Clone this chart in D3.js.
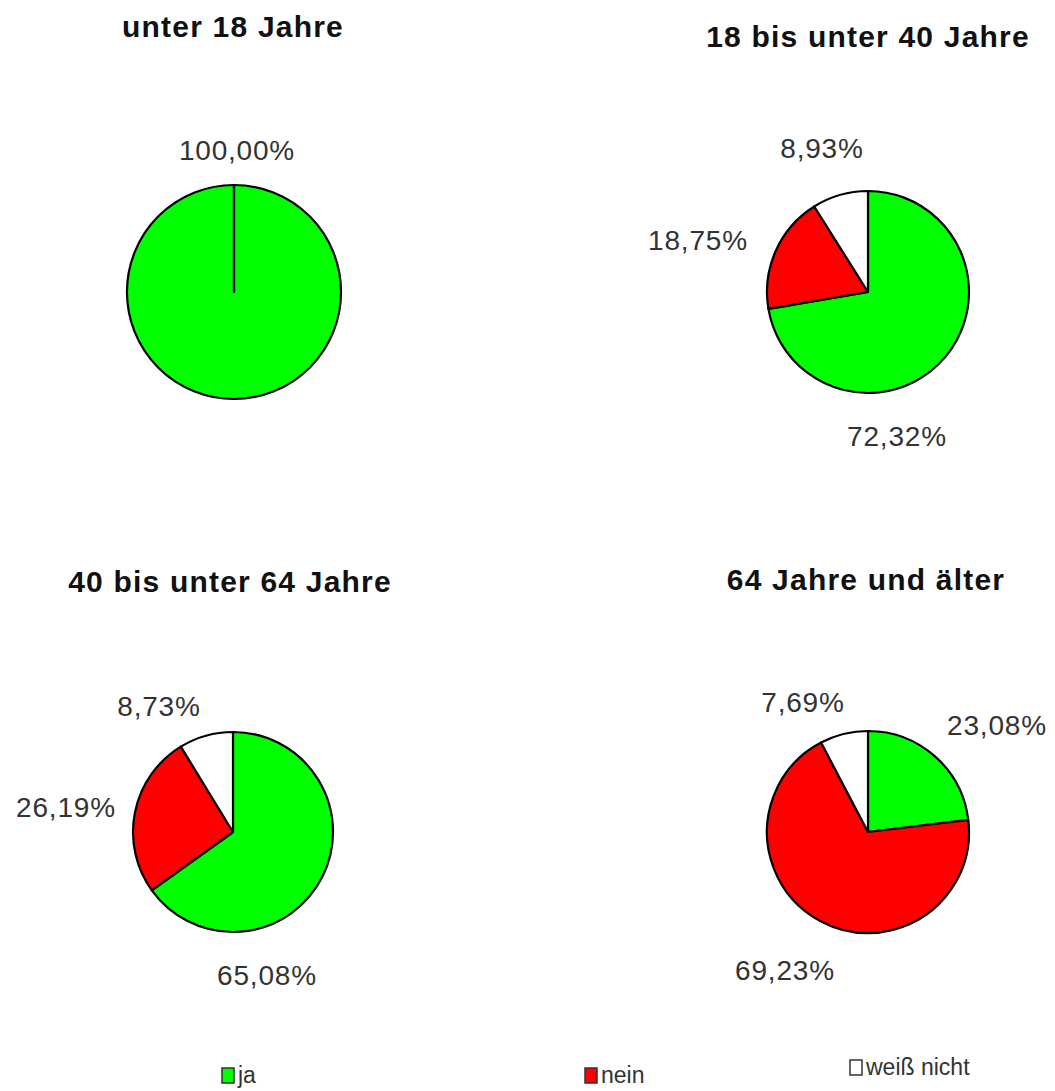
<!DOCTYPE html>
<html>
<head>
<meta charset="utf-8">
<script src="https://cdn.jsdelivr.net/npm/d3@7"></script>
<style>
  html, body { margin: 0; padding: 0; background: #fff; }
  svg { display: block; }
</style>
</head>
<body>
<svg id="chart" width="1055" height="1091"></svg>
<script>
// Age groups and answer shares (percent)
const ageGroups = ["unter 18 Jahre", "18 bis unter 40 Jahre", "40 bis unter 64 Jahre", "64 Jahre und älter"];
const answers = ["ja", "nein", "weiß nicht"];
const ja = [100.00, 72.32, 65.08, 23.08];
const nein = [0, 18.75, 26.19, 69.23];
const weissNicht = [0, 8.93, 8.73, 7.69];

const colors = ["#00ff00", "#ff0000", "#ffffff"];

// Panel layout: pie centre, radius, title anchor and label anchors (ja, nein, weiß nicht)
const panels = [
  { cx: 234, cy: 292, r: 107, title: [233, 37],  labels: [[237, 160], null, null] },
  { cx: 868, cy: 292, r: 101, title: [868, 47],  labels: [[897, 446], [698, 250], [822, 158]] },
  { cx: 233, cy: 832, r: 100, title: [230, 592], labels: [[267, 985], [66, 817], [159, 716]] },
  { cx: 868, cy: 832, r: 101, title: [866, 590], labels: [[997, 735], [785, 980], [803, 712]] }
];

const svg = d3.select("#chart");
const fmt = v => v.toFixed(2).replace(".", ",") + "%";

const pie = d3.pie().sort(null).value(d => d.value);

ageGroups.forEach((name, i) => {
  const p = panels[i];
  const slices = answers.map((a, k) => ({
    answer: a,
    value: [ja, nein, weissNicht][k][i],
    color: colors[k]
  }));
  const arc = d3.arc().innerRadius(0).outerRadius(p.r);

  const g = svg.append("g").attr("transform", `translate(${p.cx},${p.cy})`);
  g.selectAll("path")
    .data(pie(slices))
    .join("path")
    .attr("d", arc)
    .attr("fill", d => d.data.color)
    .attr("stroke", "#000")
    .attr("stroke-width", 2.2)
    .attr("stroke-linejoin", "round");

  svg.append("text")
    .attr("x", p.title[0])
    .attr("y", p.title[1])
    .attr("text-anchor", "middle")
    .attr("font-family", "Liberation Sans, Arial, sans-serif")
    .attr("font-weight", "bold")
    .attr("font-size", 30)
    .attr("letter-spacing", 1.2)
    .attr("fill", "#111")
    .text(name);

  slices.forEach((s, k) => {
    if (!s.value || !p.labels[k]) return;
    svg.append("text")
      .attr("x", p.labels[k][0])
      .attr("y", p.labels[k][1])
      .attr("text-anchor", "middle")
      .attr("font-family", "Liberation Sans, Arial, sans-serif")
      .attr("font-size", 28)
      .attr("letter-spacing", 0.8)
      .attr("fill", "#333")
      .text(fmt(s.value));
  });
});

// Legend
const legendPos = [[222, 1083], [585, 1083], [850, 1075]];
answers.forEach((a, k) => {
  const [x, y] = legendPos[k];
  svg.append("rect")
    .attr("x", x).attr("y", y - 15)
    .attr("width", 12).attr("height", 15)
    .attr("fill", colors[k])
    .attr("stroke", "#333")
    .attr("stroke-width", 1.5);
  svg.append("text")
    .attr("x", x + 16).attr("y", y)
    .attr("font-family", "Liberation Sans Narrow, Liberation Sans, Arial, sans-serif")
    .attr("font-size", 23)
    .attr("fill", "#333")
    .text(a);
});
</script>
</body>
</html>
